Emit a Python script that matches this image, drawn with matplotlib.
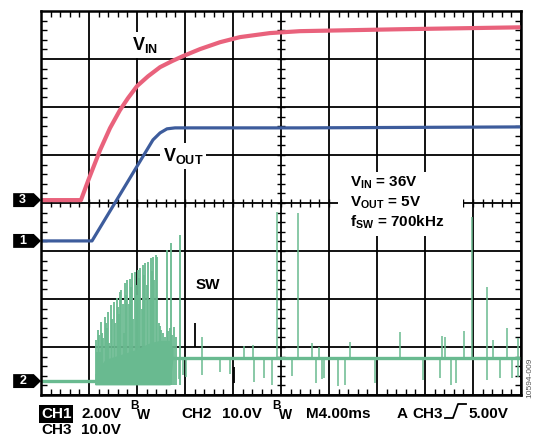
import matplotlib
matplotlib.use('Agg')
import matplotlib.pyplot as plt
import numpy as np
import matplotlib.transforms as mtransforms
from matplotlib.patches import Polygon, Rectangle
from matplotlib.lines import Line2D
from matplotlib.ticker import MultipleLocator

plt.rcParams['font.family'] = ['Liberation Sans', 'DejaVu Sans']
plt.rcParams['mathtext.fontset'] = 'custom'
plt.rcParams['mathtext.rm'] = 'Liberation Sans:bold'
plt.rcParams['mathtext.bf'] = 'Liberation Sans:bold'

# scope settings (ground markers in divisions from the bottom)
CH1_V_PER_DIV = 2.0    # VOUT
CH2_V_PER_DIV = 10.0   # SW
CH3_V_PER_DIV = 10.0   # VIN
CH1_OFFSET = 3.21
CH2_OFFSET = 0.29
CH3_OFFSET = 4.06

# CH3: VIN (ms, V)
vin_t = [0, 3.33, 3.92, 4.92, 5.75, 6.58, 7.25, 8.0, 8.92, 9.92, 10.92, 11.83,
         13.25, 14.92, 16.58, 19.08, 21.58, 25.75, 29.92, 34.92, 39.92]
vin_v = [0, 0, 4.0, 10.4, 15.0, 18.75, 21.25, 23.75, 25.8, 27.7, 28.96, 30.0,
         31.46, 32.9, 33.96, 34.8, 35.2, 35.4, 35.6, 35.8, 36.0]

# CH1: VOUT (ms, V)
vout_t = [0, 4.25, 9.33, 9.92, 10.5, 11.17, 21.58, 39.92]
vout_v = [0, 0, 4.21, 4.5, 4.67, 4.71, 4.71, 4.75]

# CH2: SW node
sw_idle_t = [0, 4.5]
sw_idle_v = [0, 0]
sw_run_t = [11.0, 39.92]
sw_run_v = [4.8, 4.8]
# dense soft-start band
band_t = [4.5, 5.33, 6.58, 7.83, 9.08, 9.92, 10.75, 11.0]
band_lo = [-0.8, -0.8, -0.8, -0.8, -0.8, -0.8, -0.8, 4.8]
band_hi = [1.5, 4.5, 5.5, 6.5, 8.0, 8.5, 8.5, 6.5]
# soft-start spikes
burst_t = [4.58, 4.67, 4.75, 4.83, 4.9, 5.0, 5.1, 5.2, 5.33, 5.42, 5.5, 5.58,
           5.7, 5.83, 5.95, 6.08, 6.2, 6.33, 6.42, 6.5, 6.58, 6.67, 6.8, 6.9,
           7.0, 7.08, 7.17, 7.3, 7.42, 7.5, 7.58, 7.7, 7.83, 7.92, 8.0, 8.08,
           8.17, 8.25, 8.4, 8.5, 8.58, 8.67, 8.8, 8.92, 9.05, 9.17, 9.25, 9.33,
           9.45, 9.58, 9.67, 9.8, 9.9, 10.0, 10.17, 10.33, 10.5, 10.62, 10.75,
           10.83, 10.95, 11.08, 11.25, 11.58]
burst_v = [8.5, 6.0, 10.6, 9.5, 6.0, 12.3, 10.0, 9.0, 13.3, 12.0, 11.0, 14.4,
           8.0, 15.8, 13.0, 16.5, 12.0, 17.3, 15.5, 14.0, 18.5, 19.0, 16.0, 10.0,
           20.4, 18.0, 21.0, 16.0, 21.2, 19.5, 22.5, 13.0, 22.7, 20.0, 18.0, 23.1,
           21.5, 23.5, 15.0, 24.2, 22.0, 24.6, 20.0, 24.8, 17.0, 25.6, 23.0, 25.8,
           21.0, 26.3, 25.8, 12.0, 11.5, 10.6, 10.0, 9.2, 27.3, 10.5, 11.0,
           28.75, 9.5, 11.25, 9.2, 30.4]
# spikes after start-up
post_up_t = [13.42, 16.92, 17.67, 19.67, 21.42, 22.58, 23.17, 25.75, 29.92,
             33.42, 33.67, 35.25, 35.92, 37.17, 37.67, 38.83, 39.75]
post_up_v = [9.2, 7.3, 7.5, 35.2, 35.0, 7.9, 7.1, 8.1, 10.2,
             9.4, 9.2, 10.4, 34.2, 19.6, 8.5, 11.0, 9.0]
post_dn_t = [11.5, 11.8, 12.1, 13.42, 14.92, 15.75, 17.75, 18.58, 19.25, 20.92,
             22.92, 23.42, 23.58, 24.75, 25.33, 27.83, 31.83, 33.25, 34.17,
             34.58, 37.17, 38.25, 39.25, 39.75]
post_dn_v = [0.5, 1.2, 0.8, 1.25, 1.9, 1.5, -0.2, 0.6, -0.8, 1.0,
             -0.4, 0.4, 0.6, -1.0, -0.8, -0.4, 0.2, 0.6, -0.8,
             -0.4, 0.2, 0.6, 0.6, 0.8]

PINK = '#E9627C'
BLUE = '#3D5C9C'
GREEN = '#69BA90'

W, H = 534, 437
fig = plt.figure(figsize=(W / 100, H / 100), dpi=100)
ax = fig.add_axes([41 / W, 42 / H, 480 / W, 384 / H])
ax.set_xlim(0, 40)
ax.set_ylim(0, 8)

# graticule
ax.set_xticks(np.arange(0, 41, 4))
ax.set_yticks(np.arange(0, 9, 1))
ax.xaxis.set_minor_locator(MultipleLocator(0.8))
ax.yaxis.set_minor_locator(MultipleLocator(0.2))
ax.tick_params(which='both', labelbottom=False, labelleft=False,
               direction='in', top=True, right=True)
ax.tick_params(which='major', length=0)
ax.tick_params(which='minor', length=4, width=1.0, color='black')
ax.grid(True, which='major', color='black', lw=1.3, zorder=0)
ax.set_axisbelow(True)
for s in ax.spines.values():
    s.set_linewidth(1.8)
    s.set_color('black')
    s.set_zorder(6)

cx = np.arange(0.8, 40, 0.8)
cy = np.arange(0.2, 8, 0.2)
ax.plot(np.full(len(cy), 20.0), cy, ls='none', marker='_', ms=6, mew=1.0,
        color='black', zorder=1)
ax.plot(cx, np.full(len(cx), 4.0), ls='none', marker='|', ms=6, mew=1.0,
        color='black', zorder=1)

# traces
def div(v, off, vpd):
    return off + np.asarray(v, dtype=float) / vpd

ax.fill_between(band_t, div(band_lo, CH2_OFFSET, CH2_V_PER_DIV),
                div(band_hi, CH2_OFFSET, CH2_V_PER_DIV), color=GREEN, lw=0, zorder=2)
ax.vlines(burst_t, div(-0.8, CH2_OFFSET, CH2_V_PER_DIV),
          div(burst_v, CH2_OFFSET, CH2_V_PER_DIV), color=GREEN, lw=1.3, zorder=2)
ax.vlines(post_up_t, div(4.8, CH2_OFFSET, CH2_V_PER_DIV),
          div(post_up_v, CH2_OFFSET, CH2_V_PER_DIV), color=GREEN, lw=1.1, zorder=2)
ax.vlines(post_dn_t, div(4.8, CH2_OFFSET, CH2_V_PER_DIV),
          div(post_dn_v, CH2_OFFSET, CH2_V_PER_DIV), color=GREEN, lw=1.1, zorder=2)
ax.plot(sw_idle_t, div(sw_idle_v, CH2_OFFSET, CH2_V_PER_DIV), color=GREEN, lw=2.4, zorder=2)
ax.plot(sw_run_t, div(sw_run_v, CH2_OFFSET, CH2_V_PER_DIV), color=GREEN, lw=2.4, zorder=2)
ax.vlines([12.83], 1.0, 1.5, color='black', lw=1.3, zorder=3)
ax.vlines([16.08], 0.25, 0.58, color='black', lw=1.3, zorder=3)

ax.plot(vout_t, div(vout_v, CH1_OFFSET, CH1_V_PER_DIV), color=BLUE, lw=2.3,
        solid_joinstyle='round', zorder=3)
ax.plot(vin_t, div(vin_v, CH3_OFFSET, CH3_V_PER_DIV), color=PINK, lw=3.0,
        solid_joinstyle='round', zorder=3)

# labels on the screen
box = dict(fc='white', ec='none', pad=2)
ax.text(8.67, 7.29, r'$\mathbf{V_{IN}}$', fontsize=13, ha='center', va='center',
        bbox=box, zorder=4)
ax.text(11.83, 4.98, r'$\mathbf{V_{OUT}}$', fontsize=13, ha='center', va='center',
        bbox=box, zorder=4)
ax.text(13.92, 2.29, 'SW', fontsize=11, fontweight='bold', ha='center', va='center',
        bbox=box, zorder=4)
ax.add_patch(Rectangle((24.75, 3.31), 10.42, 1.34, fc='white', ec='none', zorder=4))
for yy, s in [(4.42, r'$\mathbf{V_{IN}}$ = 36V'),
              (4.0, r'$\mathbf{V_{OUT}}$ = 5V'),
              (3.6, r'$\mathbf{f_{SW}}$ = 700kHz')]:
    ax.text(25.75, yy, s, fontsize=11, fontweight='bold', ha='left', va='center',
            zorder=5)

# channel ground markers
trans = mtransforms.blended_transform_factory(ax.transAxes, ax.transData)
hw = 0.145
for yy, lab in [(CH3_OFFSET, '3'), (CH1_OFFSET, '1'), (CH2_OFFSET, '2')]:
    pts = [(-0.058, yy - hw), (-0.015, yy - hw), (0.0, yy),
           (-0.015, yy + hw), (-0.058, yy + hw)]
    ax.add_patch(Polygon(pts, closed=True, transform=trans, fc='black',
                         ec='none', clip_on=False, zorder=7))
    ax.text(-0.038, yy, lab, transform=trans, color='white', fontsize=9,
            fontweight='bold', ha='center', va='center', zorder=8)

# readout
def fx(x):
    return x / W

def fy(y):
    return 1 - y / H

fs = 11
fig.text(fx(41), fy(418), 'CH1', fontsize=fs, fontweight='bold', color='white',
         va='baseline', bbox=dict(boxstyle='square,pad=0.12', fc='black', ec='none'))
fig.text(fx(81), fy(418), '2.00V', fontsize=fs, fontweight='bold', va='baseline')
fig.text(fx(130), fy(409), 'B', fontsize=8.5, fontweight='bold', va='baseline')
fig.text(fx(137), fy(419), 'W', fontsize=10, fontweight='bold', va='baseline')
fig.text(fx(181), fy(418), 'CH2', fontsize=fs, fontweight='bold', va='baseline')
fig.text(fx(222), fy(418), '10.0V', fontsize=fs, fontweight='bold', va='baseline')
fig.text(fx(272), fy(409), 'B', fontsize=8.5, fontweight='bold', va='baseline')
fig.text(fx(279), fy(419), 'W', fontsize=10, fontweight='bold', va='baseline')
fig.text(fx(306), fy(418), 'M4.00ms', fontsize=fs, fontweight='bold', va='baseline')
fig.text(fx(397), fy(418), 'A', fontsize=fs, fontweight='bold', va='baseline')
fig.text(fx(412), fy(418), 'CH3', fontsize=fs, fontweight='bold', va='baseline')
fig.add_artist(Line2D([fx(445), fx(453), fx(458), fx(466)],
                      [fy(418), fy(418), fy(404), fy(404)],
                      color='black', lw=1.3, transform=fig.transFigure))
fig.text(fx(468), fy(418), '5.00V', fontsize=fs, fontweight='bold', va='baseline')
fig.text(fx(41), fy(434), 'CH3', fontsize=fs, fontweight='bold', va='baseline')
fig.text(fx(81), fy(434), '10.0V', fontsize=fs, fontweight='bold', va='baseline')
fig.text(fx(530), fy(378), '10594-009', fontsize=6, color='#555555',
         rotation=90, ha='center', va='center')

fig.savefig('out.png', dpi=100, facecolor='white')
